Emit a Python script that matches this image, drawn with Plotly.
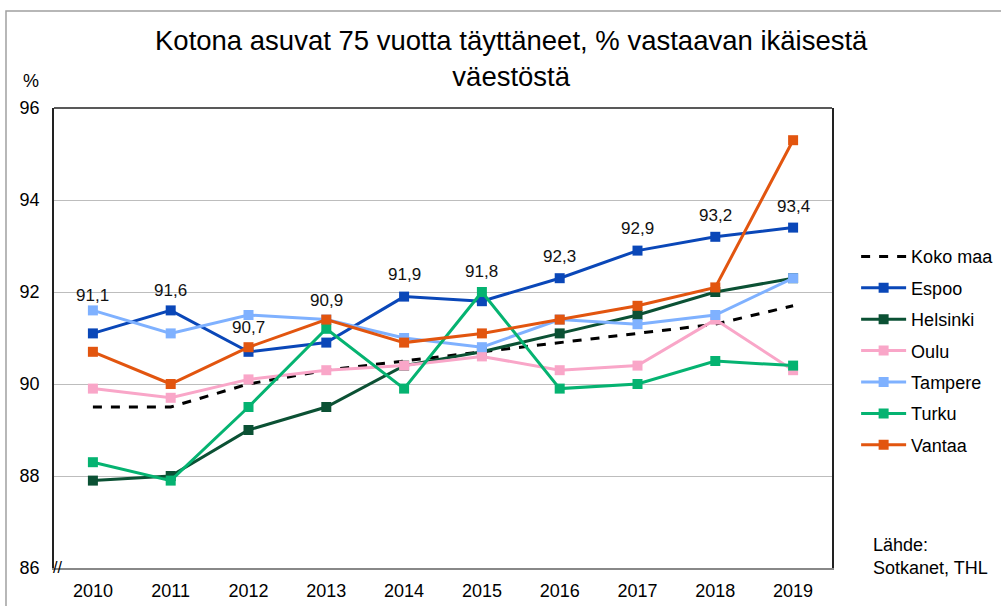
import plotly.graph_objects as go

years = [str(y) for y in range(2010, 2020)]

koko_maa = [89.5, 89.5, 90.0, 90.3, 90.5, 90.7, 90.9, 91.1, 91.3, 91.7]
espoo = [91.1, 91.6, 90.7, 90.9, 91.9, 91.8, 92.3, 92.9, 93.2, 93.4]
helsinki = [87.9, 88.0, 89.0, 89.5, 90.4, 90.7, 91.1, 91.5, 92.0, 92.3]
oulu = [89.9, 89.7, 90.1, 90.3, 90.4, 90.6, 90.3, 90.4, 91.4, 90.3]
tampere = [91.6, 91.1, 91.5, 91.4, 91.0, 90.8, 91.4, 91.3, 91.5, 92.3]
turku = [88.3, 87.9, 89.5, 91.2, 89.9, 92.0, 89.9, 90.0, 90.5, 90.4]
vantaa = [90.7, 90.0, 90.8, 91.4, 90.9, 91.1, 91.4, 91.7, 92.1, 95.3]

y_ticks = [86, 88, 90, 92, 94, 96]

series = [
    ("Espoo", espoo, "#0A47B8"),
    ("Helsinki", helsinki, "#0B5134"),
    ("Oulu", oulu, "#F9A6C8"),
    ("Tampere", tampere, "#7FB1FF"),
    ("Turku", turku, "#05B371"),
    ("Vantaa", vantaa, "#E2550F"),
]

# pixel lift of each Espoo value label above its marker
label_lift = [38, 20, 24, 42, 22, 30, 22, 22, 21, 21]

FONT = "Liberation Sans, Arial, sans-serif"

fig = go.Figure()
fig.add_trace(go.Scatter(
    x=years, y=koko_maa, name="Koko maa", mode="lines",
    line=dict(color="black", width=3, dash="dash"),
    legendgroup="a",
))
for name, vals, col in series:
    fig.add_trace(go.Scatter(
        x=years, y=vals, name=name, mode="lines+markers",
        line=dict(color=col, width=3),
        marker=dict(symbol="square", size=10, color=col),
        legendgroup=name,
    ))

# category axis: annotations placed by category index
for i, (v, lift) in enumerate(zip(espoo, label_lift)):
    fig.add_annotation(
        x=i, y=v, text=f"{v:.1f}".replace(".", ","), showarrow=False,
        yshift=lift, font=dict(size=17, color="#111"),
    )

fig.add_annotation(
    x=0.588, y=1.0, xref="paper", yref="paper", xanchor="center", yanchor="middle",
    yshift=50, showarrow=False,
    text="Kotona asuvat 75 vuotta täyttäneet, % vastaavan ikäisestä<br>väestöstä",
    font=dict(size=27.5, color="black"),
)
fig.add_annotation(
    x=0, y=1.0, xref="paper", yref="paper", xanchor="center", yanchor="middle",
    xshift=-23, yshift=27, text="%", showarrow=False, font=dict(size=18, color="black"),
)
fig.add_annotation(
    x=0, y=0, xref="paper", yref="paper", xanchor="center", yanchor="middle",
    xshift=3, yshift=1, text="//", showarrow=False, font=dict(size=16, color="black"),
)
fig.add_annotation(
    x=1.0, y=0, xref="paper", yref="paper", xanchor="left", yanchor="bottom",
    xshift=39, yshift=-12, align="left",
    text="Lähde:<br>Sotkanet, THL", showarrow=False, font=dict(size=18, color="black"),
)

# outer frame and top edge of the plot box
fig.add_shape(type="rect", xref="paper", yref="paper", x0=-0.0617, y0=-0.2, x1=1.4, y1=1.211,
              line=dict(color="#A0A0A0", width=1.5), layer="below")
fig.add_shape(type="line", xref="paper", yref="paper", x0=0, y0=1, x1=1, y1=1,
              line=dict(color="#222", width=1.5))

fig.update_layout(
    width=1001, height=606,
    margin=dict(l=54, r=169, t=108, b=38, autoexpand=False),
    plot_bgcolor="white", paper_bgcolor="white",
    font=dict(family=FONT, size=18, color="black"),
    showlegend=True,
    legend=dict(
        x=1.031, y=0.717, xanchor="left", yanchor="top", xref="paper",
        traceorder="grouped", tracegroupgap=5,
        font=dict(size=18), itemwidth=45,
        bgcolor="rgba(0,0,0,0)",
    ),
)
fig.update_xaxes(
    type="category", range=[-0.5, 9.5], showgrid=False, showline=True,
    linecolor="#888", linewidth=1.5, ticks="", ticklabelstandoff=6,
)
fig.update_yaxes(
    range=[86, 96], tickvals=y_ticks, showgrid=True, gridcolor="#BDBDBD", gridwidth=1,
    showline=True, linecolor="#222", linewidth=1.5, mirror=True, zeroline=False,
    ticks="", ticklabelstandoff=9,
)

fig.write_html("out.html", config={"displayModeBar": False},
               post_script="document.body.style.margin='0px';")
